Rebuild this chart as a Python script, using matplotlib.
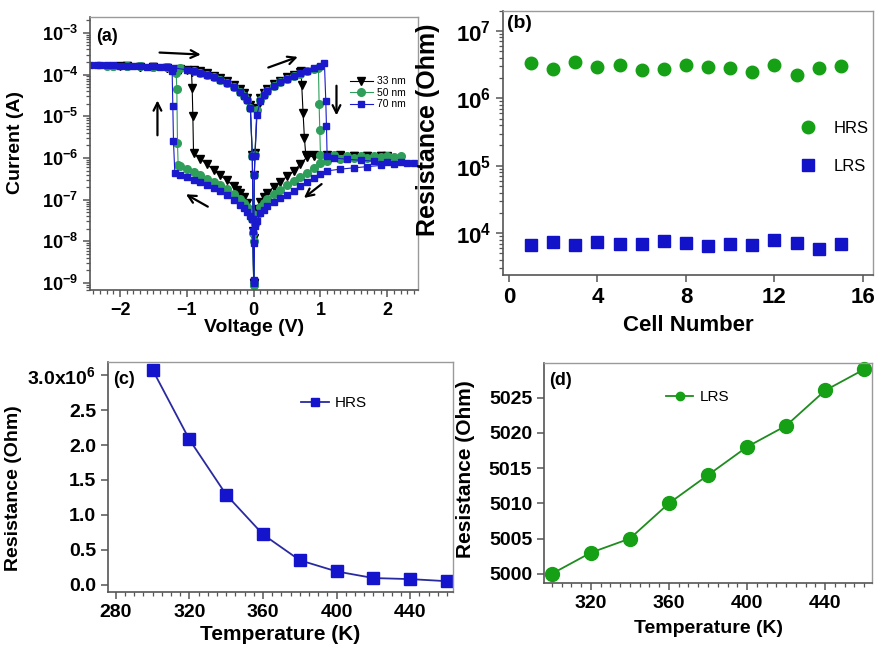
import matplotlib
matplotlib.use('Agg')
import matplotlib.pyplot as plt
from matplotlib.ticker import MultipleLocator, LogLocator, NullFormatter, FuncFormatter

plt.rcParams['font.family'] = ['Liberation Sans', 'DejaVu Sans']
plt.rcParams['font.weight'] = 'bold'
plt.rcParams['axes.labelweight'] = 'bold'
plt.rcParams['mathtext.default'] = 'regular'

# ---------------- data ----------------
# (a) I-V sweeps: 0 -> +Vmax -> 0 -> -Vmax -> 0
v_33 = [0.00, 0.01, 0.02, 0.05, 0.10, 0.15, 0.20, 0.30, 0.40, 0.50, 0.60, 0.70, 0.71,
        0.72, 0.74, 0.76, 0.78,
        0.90, 1.10, 1.30, 1.50, 1.70, 1.90, 2.00,
        1.90, 1.70, 1.50, 1.30, 1.10, 0.90, 0.80, 0.70, 0.60, 0.50, 0.40, 0.30, 0.20, 0.15, 0.10, 0.05, 0.02, 0.01, 0.00,
        -0.01, -0.02, -0.05, -0.10, -0.15, -0.20, -0.25, -0.30, -0.40, -0.50, -0.60, -0.70, -0.80, -0.90,
        -0.91, -0.92, -0.93,
        -1.10, -1.30, -1.50, -1.70, -1.90, -2.00,
        -1.90, -1.70, -1.50, -1.30, -1.10, -1.00, -0.90, -0.80, -0.70, -0.60, -0.50, -0.40, -0.30, -0.20, -0.15, -0.10, -0.05, -0.02, -0.01, 0.00]
i_33 = [1.0e-9, 4.0e-7, 1.3e-6, 1.6e-5, 2.8e-5, 3.7e-5, 4.5e-5, 5.9e-5, 7.2e-5, 8.6e-5, 1.0e-4, 1.15e-4, 1.2e-4,
        5.5e-5, 1.2e-5, 3.0e-6, 1.2e-6,
        1.2e-6, 1.2e-6, 1.15e-6, 1.12e-6, 1.1e-6, 1.1e-6, 1.1e-6,
        1.1e-6, 1.1e-6, 1.1e-6, 1.1e-6, 1.1e-6, 1.1e-6, 1.05e-6, 7.2e-7, 4.8e-7, 3.6e-7, 2.7e-7, 2.0e-7, 1.45e-7, 1.15e-7, 9.0e-8, 6.0e-8, 3.5e-8, 1.2e-8, 1.0e-9,
        1.8e-8, 4.0e-8, 5.5e-8, 8.5e-8, 1.15e-7, 1.45e-7, 1.7e-7, 2.1e-7, 2.9e-7, 3.8e-7, 5.2e-7, 7.0e-7, 9.5e-7, 1.3e-6,
        1.0e-5, 4.8e-5, 1.15e-4,
        1.3e-4, 1.4e-4, 1.48e-4, 1.54e-4, 1.58e-4, 1.6e-4,
        1.58e-4, 1.55e-4, 1.5e-4, 1.45e-4, 1.38e-4, 1.32e-4, 1.26e-4, 1.2e-4, 1.08e-4, 9.5e-5, 8.3e-5, 7.0e-5, 5.7e-5, 4.4e-5, 3.6e-5, 2.8e-5, 1.9e-5, 1.2e-6, 4.0e-8, 1.0e-9]

v_50 = [0.00, 0.01, 0.02, 0.05, 0.10, 0.15, 0.20, 0.30, 0.40, 0.50, 0.60, 0.70, 0.80, 0.90, 0.97,
        0.98, 0.99, 1.00,
        1.20, 1.40, 1.60, 1.80, 2.00, 2.20,
        2.10, 1.90, 1.70, 1.50, 1.30, 1.10, 1.00, 0.90, 0.80, 0.70, 0.60, 0.50, 0.40, 0.30, 0.20, 0.15, 0.10, 0.05, 0.02, 0.01, 0.00,
        -0.01, -0.02, -0.05, -0.10, -0.15, -0.20, -0.30, -0.40, -0.50, -0.60, -0.70, -0.80, -0.90, -1.00, -1.10, -1.13,
        -1.14, -1.15, -1.16,
        -1.30, -1.50, -1.70, -1.90, -2.10, -2.20,
        -2.10, -1.90, -1.70, -1.50, -1.30, -1.10, -0.90, -0.80, -0.70, -0.60, -0.50, -0.40, -0.30, -0.20, -0.15, -0.10, -0.05, -0.02, -0.01, 0.00]
i_50 = [9.0e-10, 4.0e-7, 1.2e-6, 1.4e-5, 2.5e-5, 3.3e-5, 4.1e-5, 5.4e-5, 6.6e-5, 7.9e-5, 9.2e-5, 1.06e-4, 1.2e-4, 1.35e-4, 1.45e-4,
        2.0e-5, 4.8e-6, 1.2e-6,
        1.15e-6, 1.13e-6, 1.12e-6, 1.1e-6, 1.1e-6, 1.1e-6,
        1.08e-6, 1.05e-6, 1.02e-6, 9.8e-7, 9.2e-7, 8.5e-7, 7.6e-7, 5.8e-7, 4.4e-7, 3.4e-7, 2.75e-7, 2.2e-7, 1.7e-7, 1.35e-7, 1.05e-7, 8.5e-8, 6.5e-8, 4.2e-8, 2.6e-8, 1.0e-8, 9.0e-10,
        1.6e-8, 3.5e-8, 5.0e-8, 6.8e-8, 8.5e-8, 1.05e-7, 1.4e-7, 1.8e-7, 2.2e-7, 2.7e-7, 3.2e-7, 3.8e-7, 4.5e-7, 5.3e-7, 6.3e-7, 6.6e-7,
        2.3e-6, 4.4e-5, 1.1e-4,
        1.5e-4, 1.55e-4, 1.58e-4, 1.6e-4, 1.62e-4, 1.63e-4,
        1.62e-4, 1.6e-4, 1.57e-4, 1.53e-4, 1.48e-4, 1.4e-4, 1.22e-4, 1.1e-4, 9.8e-5, 8.6e-5, 7.4e-5, 6.2e-5, 5.0e-5, 3.8e-5, 3.1e-5, 2.4e-5, 1.6e-5, 1.1e-6, 3.5e-8, 1.0e-9]

v_70 = [0.00, 0.01, 0.02, 0.05, 0.10, 0.15, 0.20, 0.30, 0.40, 0.50, 0.60, 0.70, 0.80, 0.90, 1.00, 1.06,
        1.08, 1.09, 1.10,
        1.20, 1.40, 1.60, 1.80, 2.00, 2.20, 2.40,
        2.30, 2.10, 1.90, 1.70, 1.50, 1.30, 1.10, 1.00, 0.90, 0.80, 0.70, 0.60, 0.50, 0.40, 0.30, 0.20, 0.15, 0.10, 0.05, 0.02, 0.01, 0.00,
        -0.01, -0.02, -0.05, -0.10, -0.15, -0.20, -0.30, -0.40, -0.50, -0.60, -0.70, -0.80, -0.90, -1.00, -1.10, -1.18,
        -1.20, -1.21, -1.22,
        -1.30, -1.50, -1.70, -1.90, -2.10, -2.30, -2.45,
        -2.35, -2.20, -2.00, -1.80, -1.60, -1.40, -1.20, -1.00, -0.90, -0.80, -0.70, -0.60, -0.50, -0.40, -0.30, -0.20, -0.15, -0.10, -0.05, -0.02, -0.01, 0.00]
i_70 = [1.1e-9, 3.8e-7, 1.1e-6, 1.1e-5, 2.3e-5, 3.2e-5, 4.0e-5, 5.3e-5, 6.5e-5, 7.8e-5, 9.2e-5, 1.07e-4, 1.25e-4, 1.45e-4, 1.65e-4, 1.85e-4,
        2.3e-5, 5.8e-6, 1.1e-6,
        1.0e-6, 9.3e-7, 8.8e-7, 8.4e-7, 8.1e-7, 7.8e-7, 7.5e-7,
        7.4e-7, 7.0e-7, 6.6e-7, 6.2e-7, 5.8e-7, 5.4e-7, 4.9e-7, 4.1e-7, 3.3e-7, 2.6e-7, 2.1e-7, 1.65e-7, 1.3e-7, 1.1e-7, 9.0e-8, 7.0e-8, 5.8e-8, 4.8e-8, 3.0e-8, 2.3e-8, 9.0e-9, 1.2e-9,
        1.8e-8, 3.5e-8, 4.0e-8, 5.0e-8, 6.2e-8, 7.5e-8, 1.0e-7, 1.3e-7, 1.6e-7, 1.9e-7, 2.2e-7, 2.6e-7, 3.0e-7, 3.4e-7, 3.8e-7, 4.3e-7,
        2.5e-6, 1.8e-5, 1.2e-4,
        1.55e-4, 1.6e-4, 1.62e-4, 1.64e-4, 1.66e-4, 1.68e-4, 1.7e-4,
        1.68e-4, 1.66e-4, 1.63e-4, 1.6e-4, 1.56e-4, 1.52e-4, 1.45e-4, 1.3e-4, 1.2e-4, 1.1e-4, 9.8e-5, 8.6e-5, 7.4e-5, 6.2e-5, 5.0e-5, 3.8e-5, 3.1e-5, 2.4e-5, 1.6e-5, 1.1e-6, 3.5e-8, 1.0e-9]

# sweep direction arrows (start, end) in (V, A)
arrows_a = [((-1.45, 3.4e-4), (-0.75, 3.0e-4)),
            ((0.18, 1.4e-4), (0.70, 2.8e-4)),
            ((1.24, 6.3e-5), (1.24, 9.0e-6)),
            ((1.05, 2.6e-7), (0.72, 1.0e-7)),
            ((-0.65, 6.3e-8), (-1.05, 1.45e-7)),
            ((-1.44, 3.0e-6), (-1.44, 2.8e-5))]

# (b) endurance over cells
cells = [1, 2, 3, 4, 5, 6, 7, 8, 9, 10, 11, 12, 13, 14, 15]
hrs_cells = [3.37e6, 2.68e6, 3.47e6, 2.87e6, 3.08e6, 2.62e6, 2.71e6, 3.1e6,
             2.94e6, 2.8e6, 2.45e6, 3.1e6, 2.19e6, 2.8e6, 3.0e6]
lrs_cells = [6.65e3, 7.36e3, 6.6e3, 7.36e3, 7.0e3, 6.88e3, 7.6e3, 7.2e3,
             6.35e3, 6.95e3, 6.7e3, 7.8e3, 7.2e3, 5.8e3, 6.9e3]

# (c), (d) temperature dependence
temps = [300, 320, 340, 360, 380, 400, 420, 440, 460]
hrs_temp = [3.08e6, 2.08e6, 1.29e6, 0.72e6, 0.35e6, 0.19e6, 0.095e6, 0.08e6, 0.05e6]
lrs_temp = [5000, 5003, 5005, 5010, 5014, 5018, 5021, 5026, 5029]

# ---------------- figure ----------------
fig = plt.figure(figsize=(8.77, 6.5), dpi=100)

ax_a = fig.add_axes([0.1026, 0.5538, 0.374, 0.42])
ax_b = fig.add_axes([0.5735, 0.577, 0.4219, 0.4066])
ax_c = fig.add_axes([0.1231, 0.0892, 0.3934, 0.3539])
ax_d = fig.add_axes([0.6203, 0.1031, 0.374, 0.3385])


def frame(ax, tsize):
    for pos in ['top', 'right']:
        ax.spines[pos].set_color('#9a9a9a')
        ax.spines[pos].set_linewidth(1.0)
    for pos in ['left', 'bottom']:
        ax.spines[pos].set_color('#555555')
        ax.spines[pos].set_linewidth(1.2)
    ax.tick_params(which='both', direction='out', top=False, right=False,
                   color='#555555', labelsize=tsize)
    ax.tick_params(which='major', length=5, width=1.1)
    ax.tick_params(which='minor', length=3, width=0.9)


# (a)
ax_a.plot(v_33, i_33, color='black', marker='v', ms=5.5, lw=0.8, label='33 nm')
ax_a.plot(v_50, i_50, color='#2e9e5a', marker='o', ms=5.5, lw=0.8, label='50 nm')
ax_a.plot(v_70, i_70, color='#1a1acc', marker='s', ms=5, lw=0.8, label='70 nm')
ax_a.set_yscale('log')
ax_a.set_xlim(-2.45, 2.46)
ax_a.set_ylim(6.8e-10, 2.4e-3)
ax_a.xaxis.set_major_locator(MultipleLocator(1))
ax_a.xaxis.set_minor_locator(MultipleLocator(0.1))
ax_a.yaxis.set_major_locator(LogLocator(base=10, numticks=20))
ax_a.yaxis.set_minor_locator(LogLocator(base=10, subs=range(2, 10), numticks=20))
ax_a.yaxis.set_minor_formatter(NullFormatter())
ax_a.set_xlabel('Voltage (V)', fontsize=14, labelpad=0)
ax_a.set_ylabel('Current (A)', fontsize=14)
ax_a.yaxis.set_label_coords(-0.2, 0.54)
frame(ax_a, 13)
for start, end in arrows_a:
    ax_a.annotate('', xy=end, xytext=start,
                  arrowprops=dict(arrowstyle='->', lw=1.6, color='black', mutation_scale=14))
ax_a.text(0.02, 0.96, '(a)', transform=ax_a.transAxes, fontsize=13, va='top')
ax_a.legend(loc='upper left', bbox_to_anchor=(0.77, 0.81), frameon=False,
            prop={'size': 7.5, 'weight': 'normal'}, handlelength=2.2,
            labelspacing=0.15, handletextpad=0.4, borderpad=0.2)

# (b)
ax_b.plot(cells, hrs_cells, 'o', color='#16a016', ms=9, label='HRS', linestyle='none')
ax_b.plot(cells, lrs_cells, 's', color='#1212c8', ms=8.5, label='LRS', linestyle='none')
ax_b.set_yscale('log')
ax_b.set_xlim(-0.27, 16.45)
ax_b.set_ylim(2.4e3, 2.0e7)
ax_b.xaxis.set_major_locator(MultipleLocator(4))
ax_b.yaxis.set_major_locator(LogLocator(base=10, numticks=20))
ax_b.yaxis.set_minor_locator(LogLocator(base=10, subs=range(2, 10), numticks=20))
ax_b.yaxis.set_minor_formatter(NullFormatter())
ax_b.set_xlabel('Cell Number', fontsize=16, labelpad=5)
ax_b.set_ylabel('Resistance (Ohm)', fontsize=18)
ax_b.yaxis.set_label_coords(-0.17, 0.55)
frame(ax_b, 16)
ax_b.text(0.012, 0.985, '(b)', transform=ax_b.transAxes, fontsize=14, va='top')
ax_b.legend(loc='upper left', bbox_to_anchor=(0.74, 0.64), frameon=False,
            prop={'size': 12, 'weight': 'normal'}, labelspacing=1.4,
            handletextpad=0.5, numpoints=1)

# (c)
ax_c.plot(temps, hrs_temp, color='#2a2aa0', lw=1.3, marker='s', ms=9,
          mfc='#1414cc', mec='#1414cc', label='HRS')
ax_c.set_xlim(275.8, 463.2)
ax_c.set_ylim(-0.105e6, 3.19e6)
ax_c.xaxis.set_major_locator(MultipleLocator(40))
ax_c.xaxis.set_minor_locator(MultipleLocator(5))
ax_c.yaxis.set_major_locator(MultipleLocator(0.5e6))
ax_c.yaxis.set_major_formatter(FuncFormatter(
    lambda v, p: r'3.0x10$^{6}$' if abs(v - 3e6) < 1 else '%.1f' % (v / 1e6)))
ax_c.set_xlabel('Temperature (K)', fontsize=15, labelpad=3)
ax_c.set_ylabel('Resistance (Ohm)', fontsize=14)
ax_c.yaxis.set_label_coords(-0.25, 0.45)
frame(ax_c, 14)
ax_c.text(0.015, 0.96, '(c)', transform=ax_c.transAxes, fontsize=13, va='top')
ax_c.legend(loc='upper left', bbox_to_anchor=(0.52, 0.91), frameon=False,
            prop={'size': 11, 'weight': 'normal'}, handlelength=1.8,
            handletextpad=0.4, markerscale=0.6)

# (d)
ax_d.plot(temps, lrs_temp, color='#1e8c1e', lw=1.3, marker='o', ms=10,
          mfc='#16a016', mec='#16a016', label='LRS', clip_on=False)
ax_d.set_xlim(296, 464)
ax_d.set_ylim(4998.7, 5029.9)
ax_d.xaxis.set_major_locator(MultipleLocator(40))
ax_d.xaxis.set_minor_locator(MultipleLocator(5))
ax_d.yaxis.set_major_locator(MultipleLocator(5))
ax_d.set_xlabel('Temperature (K)', fontsize=14, labelpad=6)
ax_d.set_ylabel('Resistance (Ohm)', fontsize=15)
ax_d.yaxis.set_label_coords(-0.21, 0.518)
frame(ax_d, 14)
ax_d.text(0.015, 0.96, '(d)', transform=ax_d.transAxes, fontsize=13, va='top')
ax_d.legend(loc='upper left', bbox_to_anchor=(0.33, 0.94), frameon=False,
            prop={'size': 11, 'weight': 'normal'}, handlelength=1.8,
            handletextpad=0.4, markerscale=0.6)

fig.savefig('out.png', dpi=100)
